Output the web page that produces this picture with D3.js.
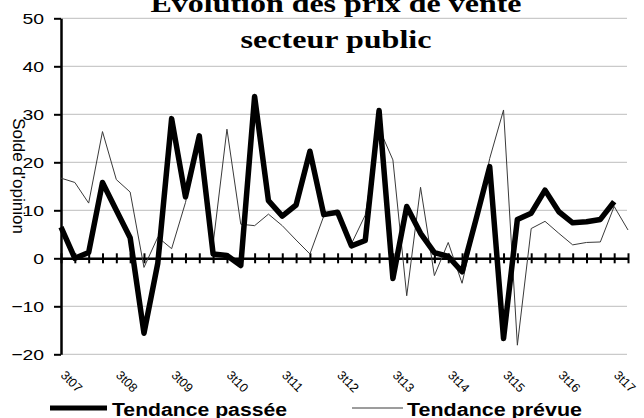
<!DOCTYPE html>
<html>
<head>
<meta charset="utf-8">
<script src="https://cdn.jsdelivr.net/npm/d3@7"></script>
<style>
  body { margin: 0; background: #fff; }
  text { font-family: Arial, "Liberation Sans", sans-serif; }
</style>
</head>
<body>
<div id="chart-area"></div>
<script>

// quarters, 3t07 .. 4t17
var quarters = ["3t07","4t07","1t08","2t08","3t08","4t08","1t09","2t09","3t09","4t09",
                "1t10","2t10","3t10","4t10","1t11","2t11","3t11","4t11","1t12","2t12",
                "3t12","4t12","1t13","2t13","3t13","4t13","1t14","2t14","3t14","4t14",
                "1t15","2t15","3t15","4t15","1t16","2t16","3t16","4t16","1t17","2t17",
                "3t17","4t17"];

var passee = [6.5, 0, 1.2, 15.8, 10, 4.3, -15.6, -1, 29.1, 12.8,
              25.5, 0.9, 0.6, -1.5, 33.7, 12.0, 8.8, 11.1, 22.3, 9.1,
              9.6, 2.6, 3.7, 30.8, -4.2, 10.8, 5.2, 1.2, 0.4, -2.8,
              8.0, 19.1, -16.7, 8.1, 9.4, 14.2, 9.7, 7.4, 7.6, 8.1,
              11.8];

var prevue = [16.7, 15.8, 11.5, 26.4, 16.4, 13.8, -1.9, 4.4, 2.0, 11.6,
              24.5, 3, 26.9, 7.1, 6.8, 9.2, 6.8, 3.8, 0.9, 8.8,
              9.5, 3.0, 9.0, 27.1, 20.5, -7.8, 14.8, -3.6, 3.3, -5.2,
              7.3, 20.8, 30.9, -18.1, 6.2, 7.7, 5.2, 2.8, 3.3, 3.4,
              10.8, 5.9];

var yTicks = [-20, -10, 0, 10, 20, 30, 40, 50];
var seriesNames = ["Tendance passée", "Tendance prévue"];

var width = 644, height = 418;
var sx = 1.25; // the picture is stretched sideways

var svg = d3.select("#chart-area")
    .append("svg")
        .attr("width", width)
        .attr("height", height);

// Scales
var x = d3.scalePoint()
    .domain(quarters)
    .range([61, 628]);
var y = d3.scaleLinear()
    .domain([-20, 50])
    .range([354.3, 18.3]);

// Gridlines
svg.append("g")
    .selectAll("line")
    .data(yTicks)
    .enter().append("line")
        .attr("x1", x.range()[0])
        .attr("x2", 627)
        .attr("y1", function(d){ return y(d); })
        .attr("y2", function(d){ return y(d); })
        .attr("stroke", "#bdbdbd")
        .attr("stroke-width", 1);

// Y Axis
var yAxisCall = d3.axisLeft(y)
    .tickValues(yTicks)
    .tickSize(7)
    .tickSizeOuter(0);
var yAxis = svg.append("g")
    .attr("transform", "translate(" + x.range()[0] + ",0)")
    .call(yAxisCall);
yAxis.select(".domain").attr("stroke", "#000").attr("stroke-width", 2.5);
yAxis.selectAll(".tick line").attr("stroke", "#000").attr("stroke-width", 2);
yAxis.selectAll(".tick text")
    .attr("x", 0)
    .attr("transform", "translate(-17,0) scale(" + sx + ",1)")
    .attr("font-size", "15.5px")
    .attr("font-family", "Arial, 'Liberation Sans', sans-serif")
    .attr("fill", "#000");

// X Axis on the zero line, with crossing ticks
var xAxisCall = d3.axisBottom(x)
    .tickSize(0)
    .tickFormat("");
var xAxis = svg.append("g")
    .attr("transform", "translate(0," + y(0) + ")")
    .call(xAxisCall);
xAxis.select(".domain").attr("stroke", "#000").attr("stroke-width", 2.5);
xAxis.selectAll(".tick line")
    .attr("y1", -5)
    .attr("y2", 5)
    .attr("stroke", "#000")
    .attr("stroke-width", 2);

// Category labels at the bottom, every 3rd quarter
svg.append("g")
    .selectAll("text")
    .data(quarters.filter(function(q){ return q.charAt(0) == "3"; }))
    .enter().append("text")
        .attr("transform", function(d){
            return "translate(" + (x(d) - 1) + ",376) rotate(45)"; })
        .attr("font-size", "12.5px")
        .attr("fill", "#000")
        .text(function(d){ return d; });

// Lines
var linePrevue = d3.line()
    .x(function(d, i){ return x(quarters[i]); })
    .y(function(d){ return y(d); });
var linePassee = d3.line()
    .x(function(d, i){ return x(quarters[i]); })
    .y(function(d){ return y(d); });

svg.append("path")
    .datum(prevue)
    .attr("d", linePrevue)
    .attr("fill", "none")
    .attr("stroke", "#3a3a3a")
    .attr("stroke-width", 1);

svg.append("path")
    .datum(passee)
    .attr("d", linePassee)
    .attr("fill", "none")
    .attr("stroke", "#000")
    .attr("stroke-width", 5.5)
    .attr("stroke-linejoin", "round");

// Title
var title = svg.append("g")
    .attr("font-weight", "bold")
    .attr("font-size", "25px")
    .attr("text-anchor", "middle");
title.append("text")
    .attr("x", 336)
    .attr("y", 12)
    .attr("textLength", 371)
    .attr("lengthAdjust", "spacingAndGlyphs")
    .style("font-family", "'Liberation Serif', 'Times New Roman', serif")
    .text("Evolution des prix de vente");
title.append("text")
    .attr("x", 336)
    .attr("y", 48)
    .attr("textLength", 191)
    .attr("lengthAdjust", "spacingAndGlyphs")
    .style("font-family", "'Liberation Serif', 'Times New Roman', serif")
    .text("secteur public");

// Y label
svg.append("text")
    .attr("transform", "translate(13,176) rotate(90)")
    .attr("text-anchor", "middle")
    .attr("font-size", "17px")
    .text("Solde d'opinion");

// Legend
var legend = svg.append("g")
    .attr("transform", "translate(0,408)");
var legendItems = [
    { name: seriesNames[0], x1: 50, x2: 107, w: 5, tx: 112 },
    { name: seriesNames[1], x1: 352, x2: 403, w: 1, tx: 407 }
];
legendItems.forEach(function(item) {
    legend.append("line")
        .attr("x1", item.x1)
        .attr("x2", item.x2)
        .attr("stroke", item.w > 1 ? "#000" : "#3a3a3a")
        .attr("stroke-width", item.w);
    legend.append("text")
        .attr("x", item.tx)
        .attr("y", 8)
        .attr("font-size", "18px")
        .attr("font-weight", "bold")
        .attr("textLength", 175)
        .attr("lengthAdjust", "spacingAndGlyphs")
        .text(item.name);
});

</script>
</body>
</html>
